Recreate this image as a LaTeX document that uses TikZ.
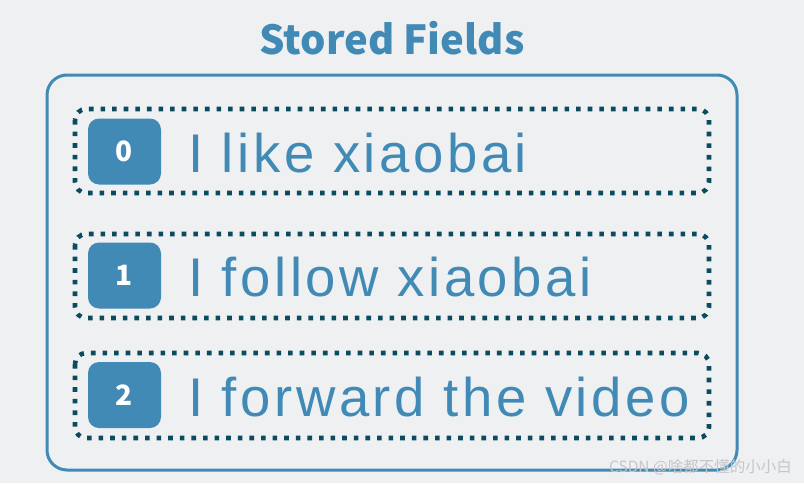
\documentclass[tikz,border=0pt]{standalone}
\usepackage{fontspec}
\setmainfont{Liberation Sans}
\newfontfamily\titlefont{Noto Sans CJK SC}
\newfontfamily\rowfont[LetterSpace=6.5]{Liberation Sans}
\newfontfamily\cjkfont{Noto Sans CJK SC}
\definecolor{bgc}{HTML}{EFF0F2}
\definecolor{blu}{HTML}{418AB6}
\definecolor{dotc}{HTML}{0B4B5F}
\definecolor{wm}{HTML}{C4C6CA}
\tikzset{
  outerbox/.style={draw=blu, line width=3pt, rounded corners=20pt},
  dotbox/.style={draw=dotc, line width=4.6pt, rounded corners=11pt, dash pattern=on 4.6pt off 7pt},
  badge/.style={fill=blu, rounded corners=11pt, minimum width=73pt, minimum height=66pt, inner sep=0pt,
     text=white, font=\titlefont\bfseries\fontsize{28}{28}\selectfont},
  rowtext/.style={anchor=base west, inner sep=0pt, text=blu, font=\rowfont\fontsize{54.5}{54.5}\selectfont},
}
\begin{document}
\begin{tikzpicture}[x=1pt,y=-1pt]
\fill[bgc] (0,0) rectangle (804,483);
\useasboundingbox (0,0) rectangle (804,483);
\node[text=blu, font=\titlefont\bfseries\fontsize{40}{40}\selectfont] (title) at (392,38) {Stored Fields};
\draw[outerbox] (47,75) rectangle (737,470);
% rows
\draw[dotbox] (75,109) rectangle (709,193);
\node[badge] (b0) at (124.5,151.5) {0};
\node[rowtext] (t0) at (188,172) {I like xiaobai};
\draw[dotbox] (75,234) rectangle (709,318);
\node[badge] (b1) at (124.5,275.5) {1};
\node[rowtext] (t1) at (188,296) {I follow xiaobai};
\draw[dotbox] (75,353) rectangle (709,438);
\node[badge] (b2) at (124.5,395) {2};
\node[rowtext] (t2) at (188,416) {I forward the video};
\node[text=wm, anchor=east, inner sep=0pt, font=\cjkfont\fontsize{15.5}{15.5}\selectfont] (wmk) at (792,467) {CSDN @啥都不懂的小小白};
\end{tikzpicture}
\end{document}
